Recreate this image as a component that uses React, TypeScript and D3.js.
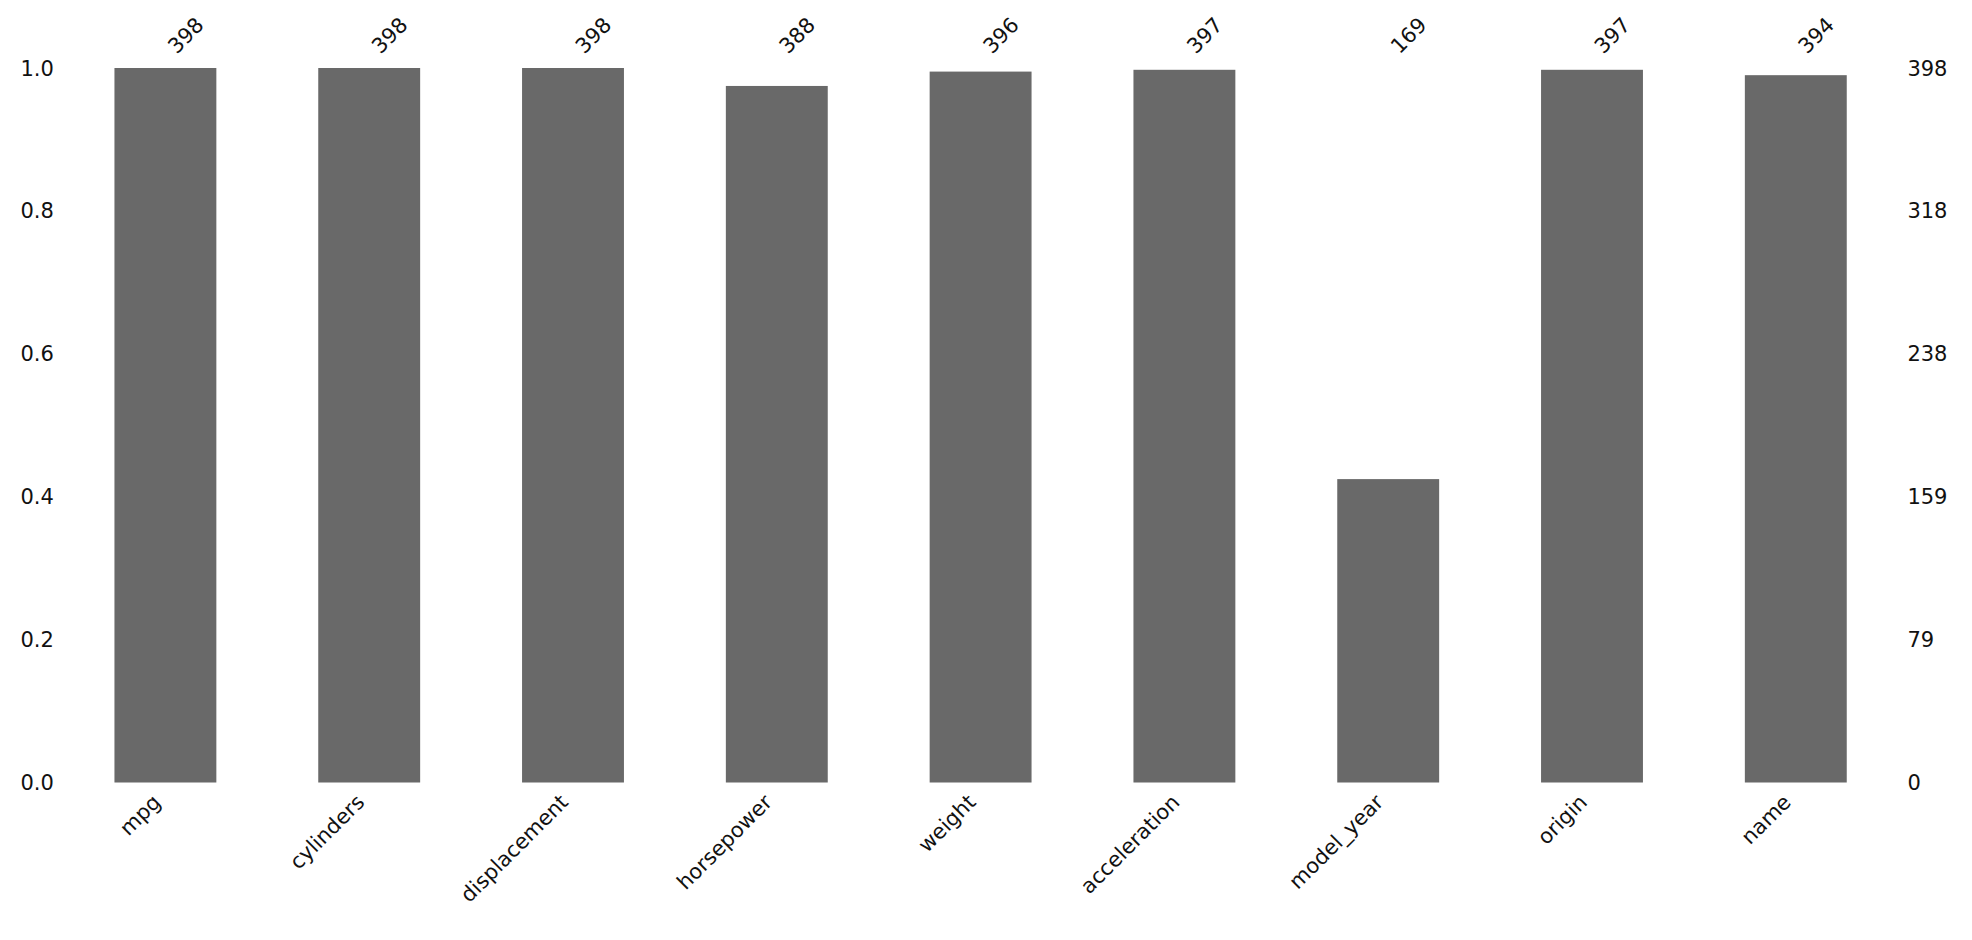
import * as d3 from "d3";

const columns = ["mpg", "cylinders", "displacement", "horsepower", "weight", "acceleration", "model_year", "origin", "name"];
const counts = [398, 398, 398, 388, 396, 397, 169, 397, 394];
const totalRows = 398;
const leftTicks = [0, 0.2, 0.4, 0.6, 0.8, 1.0];
const rightTickLabels = ["0", "79", "159", "238", "318", "398"];

const App: React.FC = () => {
    const width = 1972;
    const height = 940;
    const marginTop = 68;
    const marginBottom = 157.5;
    const marginLeft = 63.5;
    const marginRight = 74.3;
    const fs = 21;
    const pad = 9.7;
    const asc = 0.76 * fs;
    const desc = 0.24 * fs;
    const k = Math.SQRT1_2;

    const x = d3.scaleBand(columns, [marginLeft, width - marginRight]).paddingInner(0.5).paddingOuter(0.25);
    const y = d3.scaleLinear([0, 1], [height - marginBottom, marginTop]);
    const font = "DejaVu Sans";
    const ink = "#111111";

    return (
        <svg width={width} height={height} style={{ position: "absolute", left: 0, top: 0 }} fontFamily={font} fontSize={fs}>
            <rect width={width} height={height} fill="white" />
            <g fill="dimgray">
                {columns.map((c, i) => (
                    <rect key={c} x={x(c)} width={x.bandwidth()} y={y(counts[i] / totalRows)} height={y(0) - y(counts[i] / totalRows)} />
                ))}
            </g>
            <g fill={ink}>
                {leftTicks.map((t) => (
                    <text key={t} x={marginLeft - pad} y={y(t)} dy="0.36em" textAnchor="end">{t.toFixed(1)}</text>
                ))}
                {rightTickLabels.map((t, i) => (
                    <text key={t} x={width - marginRight + pad} y={y(leftTicks[i])} dy="0.36em" textAnchor="start">{t}</text>
                ))}
                {columns.map((c, i) => {
                    const cx = (x(c) ?? 0) + x.bandwidth() / 2;
                    const ax = cx + k * asc;
                    const ay = marginTop - pad - k * desc;
                    return (
                        <text key={c} transform={`translate(${ax},${ay}) rotate(-45)`} textAnchor="start">{counts[i]}</text>
                    );
                })}
                {columns.map((c) => {
                    const cx = (x(c) ?? 0) + x.bandwidth() / 2;
                    const ax = cx - k * desc;
                    const ay = y(0) + pad + k * asc;
                    return (
                        <text key={c} transform={`translate(${ax},${ay}) rotate(-45)`} textAnchor="end">{c}</text>
                    );
                })}
            </g>
        </svg>
    );
};

export default App;
